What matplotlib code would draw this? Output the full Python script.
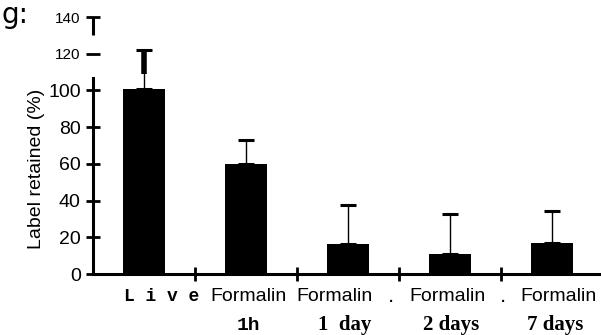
"""Label retained after fixation - bar chart reproduction."""
import matplotlib
matplotlib.use("Agg")
import matplotlib.pyplot as plt
import numpy as np

groups = ["Live", "Formalin 1h", "Formalin 1 day", "Formalin 2 days", "Formalin 7 days"]
line1 = ["L i v e", "Formalin", "Formalin", "Formalin", "Formalin"]
line2 = ["", "1h", "1  day", "2 days", "7 days"]
retained = [101, 60, 16.5, 11, 17]
err_up = [21, 13, 21, 21.5, 17.5]
y_ticks = [0, 20, 40, 60, 80, 100, 120, 140]

fig = plt.figure(figsize=(6.01, 3.35), dpi=100)
ax = fig.add_axes([0.155, 0.182, 0.845, 0.767])

x = np.arange(len(groups))
ax.bar(x, retained, width=0.41, color="black", zorder=2)
ax.errorbar(x, retained, yerr=[np.zeros(len(x)), err_up], fmt="none",
            ecolor="black", elinewidth=1.0, capsize=6, capthick=2.2, zorder=1)
# thick upper part of the first error bar (as in the scan)
top0 = retained[0] + err_up[0]
ax.vlines(x[0], top0 - 13, top0, color="black", lw=4, zorder=3)

ax.set_xlim(-0.5, 4.48)
ax.set_ylim(0, 140)

for s in ["top", "right"]:
    ax.spines[s].set_visible(False)
ax.spines["left"].set_linewidth(2.2)
ax.spines["bottom"].set_linewidth(2.2)
ax.spines["left"].set_bounds(0, 107)
# the top tick looks like a "T" in the scan
ax.vlines(-0.5, y_ticks[-1] - 10, y_ticks[-1], color="black", lw=2.2, clip_on=False)

ax.set_yticks(y_ticks)
ax.set_yticklabels([str(v) for v in y_ticks], fontsize=14, family="Liberation Sans")
for lbl in ax.get_yticklabels()[-2:]:
    lbl.set_fontsize(11)
ax.tick_params(axis="y", direction="inout", length=10, width=2, pad=4)

ax.set_xticks(x[:-1] + 0.5)
ax.set_xticklabels([])
ax.tick_params(axis="x", direction="inout", length=10, width=2)

fig.text(0.06, 0.495, "Label retained (%)", rotation=90, ha="center", va="center",
         fontsize=14, family="Liberation Sans")

# two-line category labels with mixed typefaces, as in the scan
mono = dict(family="Liberation Mono", weight="bold")
first_fonts = [dict(mono, fontsize=13)] + [dict(family="Liberation Sans", fontsize=14)] * 4
second_fonts = [dict(mono, fontsize=14), dict(mono, fontsize=14)] + \
               [dict(family="Liberation Serif", weight="bold", fontsize=15)] * 3
first_shift = [0.17, 0.02, -0.13, -0.03, 0.06]
second_shift = [0, 0.02, -0.03, 0.01, 0.03]
for i in range(len(groups)):
    t1 = ax.text(x[i] + first_shift[i], -12.5, line1[i], ha="center", va="center",
                 **first_fonts[i])
    t1.set_clip_on(False)
    if line2[i]:
        t2 = ax.text(x[i] + second_shift[i], -28, line2[i], ha="center", va="center",
                     **second_fonts[i])
        t2.set_clip_on(False)
for xd in [2.42, 3.52]:
    ax.text(xd, -12, ".", ha="center", va="center", fontsize=14, clip_on=False)

fig.text(0.002, 0.998, "g:", fontsize=20, va="top", ha="left")

fig.savefig("out.png", dpi=100)
